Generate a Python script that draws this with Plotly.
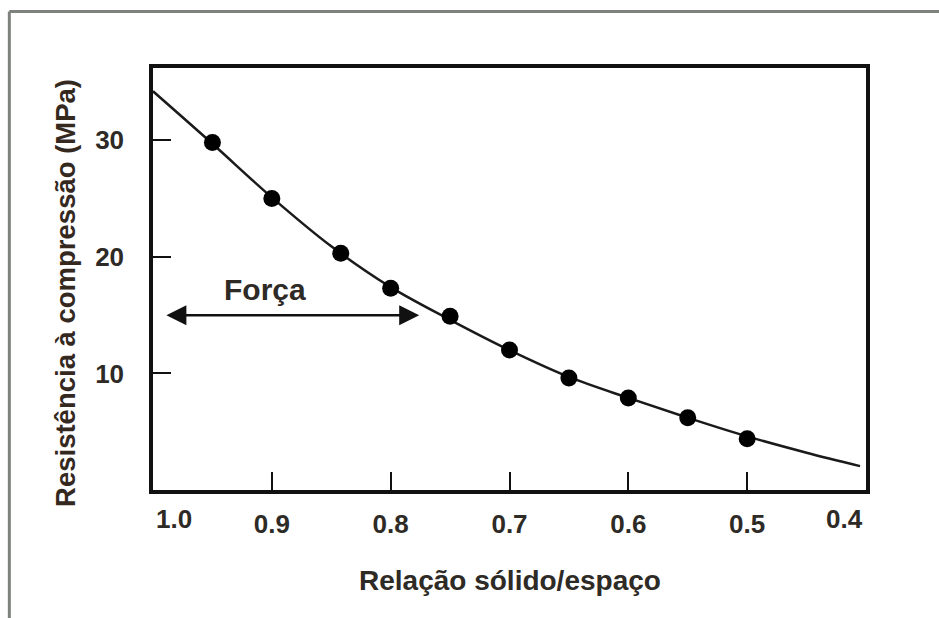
import plotly.graph_objects as go

# Measured points: solid/space ratio vs. compressive strength (MPa)
ratio_pts = [0.95, 0.90, 0.842, 0.80, 0.75, 0.70, 0.65, 0.60, 0.55, 0.50]
strength_pts = [29.8, 25.0, 20.3, 17.3, 14.9, 12.0, 9.6, 7.9, 6.2, 4.4]

# Fitted trend curve
ratio_curve = [1.0, 0.95, 0.90, 0.85, 0.80, 0.75, 0.70, 0.65, 0.60, 0.55, 0.50, 0.45, 0.405]
strength_curve = [34.2, 29.7, 25.1, 20.9, 17.4, 14.6, 12.0, 9.7, 7.9, 6.2, 4.6, 3.2, 2.05]

# Axis ticks
x_ticks = [1.0, 0.9, 0.8, 0.7, 0.6, 0.5, 0.4]
x_labels = ["1.0", "0.9", "0.8", "0.7", "0.6", "0.5", "0.4"]
y_ticks = [10, 20, 30]
y_labels = ["10", "20", "30"]

# "Força" arrow span (ratio) and level (MPa)
arrow_span = [0.99, 0.776]
arrow_level = 15.0

FONT = "Liberation Sans, Arial, sans-serif"
TXT = "#2e2a26"

fig = go.Figure()

fig.add_trace(go.Scatter(
    x=ratio_curve, y=strength_curve, mode="lines",
    line=dict(color="#1a1a1a", width=2.5, shape="spline"),
    hoverinfo="skip", showlegend=False,
))
fig.add_trace(go.Scatter(
    x=ratio_pts, y=strength_pts, mode="markers",
    marker=dict(color="#000000", size=17),
    showlegend=False,
))

# Interior tick labels come from the axis; the end labels sit inside the frame
inner_text = [lab if 0.4 < v < 1.0 else "" for v, lab in zip(x_ticks, x_labels)]

fig.update_xaxes(
    range=[1.0, 0.4], tickmode="array", tickvals=x_ticks, ticktext=inner_text,
    ticks="inside", ticklen=18, tickwidth=2, tickcolor="#111",
    showline=True, linewidth=3.5, linecolor="#111", mirror=True,
    showgrid=False, zeroline=False, ticklabelstandoff=8,
    tickfont=dict(family=FONT, size=26, color=TXT, weight="bold"),
)
fig.update_yaxes(
    range=[0, 36.2], tickmode="array", tickvals=y_ticks, ticktext=y_labels,
    ticks="inside", ticklen=18, tickwidth=2, tickcolor="#111",
    showline=True, linewidth=3.5, linecolor="#111", mirror=True,
    showgrid=False, zeroline=False, ticklabelstandoff=20,
    tickfont=dict(family=FONT, size=26, color=TXT, weight="bold"),
)

annotations = []
for v, lab in zip(x_ticks, x_labels):
    if v in (x_ticks[0], x_ticks[-1]):
        annotations.append(dict(
            x=v, y=0, xref="x", yref="paper", text=lab, showarrow=False,
            xanchor="left" if v == x_ticks[0] else "right", yanchor="top",
            xshift=1 if v == x_ticks[0] else -1, yshift=-12,
            font=dict(family=FONT, size=26, color=TXT, weight="bold"),
        ))

annotations += [
    dict(x=0.5, y=-0.215, xref="paper", yref="paper", text="Relação sólido/espaço",
         showarrow=False, xanchor="center", yanchor="middle",
         font=dict(family=FONT, size=28, color=TXT, weight="bold")),
    dict(x=-0.122, y=0.467, xref="paper", yref="paper", text="Resistência à compressão (MPa)",
         showarrow=False, textangle=-90, xanchor="center", yanchor="middle",
         font=dict(family=FONT, size=27.5, color="#35291f", weight="bold")),
    dict(x=(arrow_span[0] + arrow_span[1]) / 2, y=arrow_level, xref="x", yref="y",
         text="Força", showarrow=False, yanchor="bottom", xshift=-27, yshift=7,
         font=dict(family=FONT, size=30, color=TXT, weight="bold")),
    dict(x=arrow_span[1], y=arrow_level, ax=arrow_span[0], ay=arrow_level,
         xref="x", yref="y", axref="x", ayref="y", text="",
         showarrow=True, arrowhead=2, startarrowhead=2, arrowside="end+start",
         arrowsize=1.6, startarrowsize=1.6, arrowwidth=2.5, arrowcolor="#111"),
]

fig.update_layout(
    width=939, height=618,
    margin=dict(l=153, r=73, t=68, b=128),
    paper_bgcolor="white", plot_bgcolor="white",
    annotations=annotations,
    shapes=[
        dict(type="line", xref="paper", yref="paper", x0=-0.2015, x1=1.2,
             y0=1.134, y1=1.134, line=dict(color="#7d827c", width=3)),
        dict(type="line", xref="paper", yref="paper", x0=-0.2015, x1=-0.2015,
             y0=1.134, y1=-0.4, line=dict(color="#7d827c", width=3)),
    ],
)

fig.write_html("out.html")
